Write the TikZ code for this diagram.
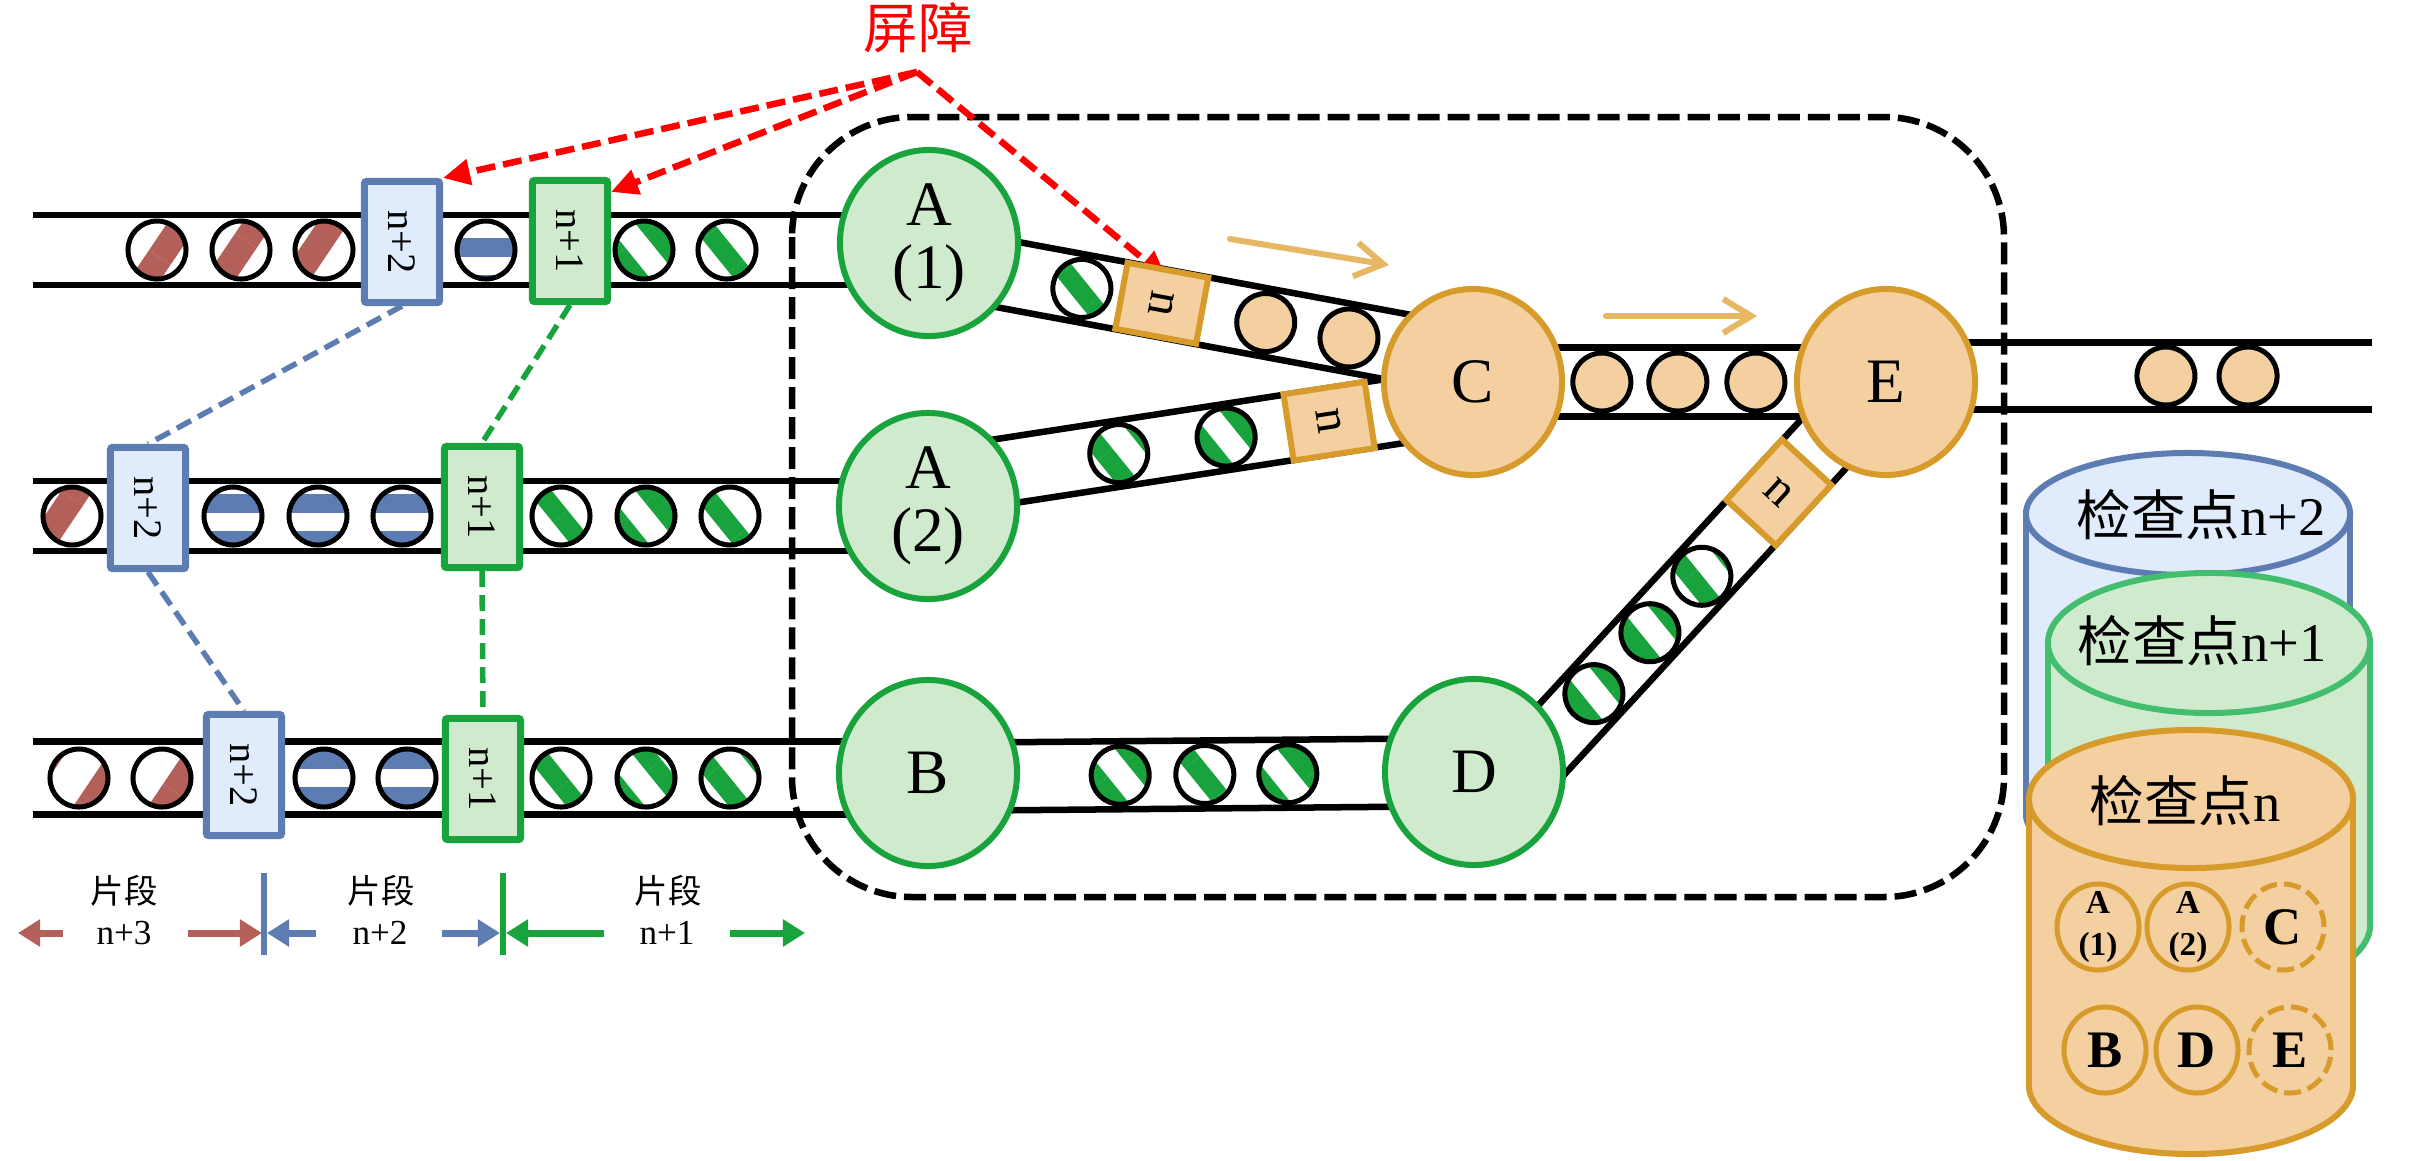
\documentclass[tikz,border=0pt]{standalone}
\usepackage{fontspec}
\setmainfont{Liberation Serif}
\newfontfamily\cjk{Noto Sans CJK SC}
\usepackage{graphicx}
\usetikzlibrary{calc,arrows.meta,patterns.meta,shapes.geometric}
\definecolor{gstroke}{RGB}{24,163,60}
\definecolor{gfill}{RGB}{208,234,206}
\definecolor{bstroke}{RGB}{93,124,178}
\definecolor{bfill}{RGB}{224,235,252}
\definecolor{ostroke}{RGB}{214,155,42}
\definecolor{ofill}{RGB}{244,207,160}
\definecolor{brownc}{RGB}{180,96,90}
\definecolor{cylgreen}{RGB}{66,190,110}
\definecolor{lightor}{RGB}{230,184,100}
\definecolor{redc}{RGB}{255,0,0}
\pgfdeclarelayer{bg}
\pgfdeclarelayer{mid}
\pgfsetlayers{bg,mid,main}
\newcommand\pipe[3]{%
  \draw[pipeline] ($(#1)!#3!90:(#2)$) -- ($(#2)!#3!-90:(#1)$);
  \draw[pipeline] ($(#1)!#3!-90:(#2)$) -- ($(#2)!#3!90:(#1)$);}
\newcommand\ballR{0.29cm}
\newcommand\grball[1]{%
  \fill[white] (#1) circle[radius=\ballR];
  \fill[pattern={Lines[angle=-51,distance=0.42cm,line width=0.19cm]},pattern color=gstroke] (#1) circle[radius=\ballR];
  \draw[ballline] (#1) circle[radius=\ballR];}
\newcommand\brball[1]{%
  \fill[white] (#1) circle[radius=\ballR];
  \fill[pattern={Lines[angle=56,distance=0.62cm,line width=0.26cm]},pattern color=brownc] (#1) circle[radius=\ballR];
  \draw[ballline] (#1) circle[radius=\ballR];}
\newcommand\orball[1]{\filldraw[ballline,fill=ofill] (#1) circle[radius=\ballR];}
\newcommand\blball[1]{%
  \begin{scope}
    \clip (#1) circle[radius=\ballR];
    \fill[white] (#1) circle[radius=0.31cm];
    \foreach \k in {0,...,16} {\fill[bstroke] (0,{238+36.6*\k}) rectangle (2420,{257+36.6*\k});}
  \end{scope}
  \draw[ballline] (#1) circle[radius=\ballR];}
\begin{document}
\begin{tikzpicture}[x=0.01cm,y=-0.01cm,
  gnode/.style={ellipse, draw=gstroke, fill=gfill, line width=0.06cm, minimum width=1.78cm, minimum height=1.86cm, inner sep=0pt, font=\fontsize{18}{18}\selectfont},
  onode/.style={gnode, draw=ostroke, fill=ofill},
  twoline/.style={font=\fontsize{18}{18}\selectfont, align=center, inner sep=0pt},
  pipeline/.style={line width=0.065cm},
  ballline/.style={line width=0.05cm},
  bbox/.style={draw=bstroke, fill=bfill, line width=0.07cm, rounded corners=0.02cm, minimum width=0.75cm, minimum height=1.21cm, inner sep=0pt, font=\fontsize{11.5}{11.5}\selectfont},
  gbox/.style={bbox, draw=gstroke, fill=gfill},
  nbox/.style={draw=ostroke, fill=ofill, line width=0.06cm, minimum width=0.82cm, minimum height=0.67cm, inner sep=0pt, font=\fontsize{14}{14}\selectfont},
  redarrow/.style={draw=redc, line width=0.065cm, dash pattern=on 0.19cm off 0.08cm, -{Triangle[length=0.27cm,width=0.25cm]}},
  bconn/.style={draw=bstroke, line width=0.055cm, dash pattern=on 0.16cm off 0.08cm},
  gconn/.style={bconn, draw=gstroke},
  flow/.style={draw=lightor, line width=0.06cm, line cap=round, -{Straight Barb[length=0.28cm,width=0.34cm]}},
  legarrow/.style={line width=0.07cm, -{Triangle[length=0.22cm,width=0.26cm]}},
  legtext/.style={font=\fontsize{10}{10}\selectfont, inner sep=0pt},
  legcjk/.style={font=\cjk\fontsize{9.5}{9.5}\selectfont, inner sep=0pt},
  cyltext/.style={font=\fontsize{15.5}{15.5}\selectfont, inner sep=0pt},
  smallc/.style={ellipse, draw=ostroke, fill=ofill, line width=0.05cm, minimum width=0.82cm, minimum height=0.86cm, inner sep=0pt},
  smallt/.style={font=\bfseries\fontsize{15}{15}\selectfont},
  smallab/.style={font=\bfseries\fontsize{9.5}{12}\selectfont, align=center, inner sep=0pt},
  cdash/.style={dash pattern=on 0.17cm off 0.07cm}
]
\useasboundingbox (0,0) rectangle (2420,1160);

% ---------- main nodes ----------
\node[gnode, label={[name=A1t, twoline]center:A\\(1)}] (A1) at (929,243) {};
\node[gnode, label={[name=A2t, twoline]center:A\\(2)}] (A2) at (928,506) {};
\node[gnode] (B) at (928,773) {B};
\node[onode] (C) at (1473,382) {C};
\node[gnode] (D) at (1474,772) {D};
\node[onode] (E) at (1886,382) {E};

% pipe end points
\coordinate (L1) at (33,250);
\coordinate (L2) at (33,516);
\coordinate (L3) at (33,778);
\coordinate (A1L) at (L1 -| A1);
\coordinate (A2L) at (L2 -| A2);
\coordinate (BL) at (L3 -| B);
\coordinate (a1) at ($(A1)+(0,17)$);
\coordinate (c1) at ($(C)+(0,-21)$);
\coordinate (a2) at ($(A2)+(0,-23)$);
\coordinate (c2) at ($(C)+(0,17)$);
\coordinate (bb) at ($(B)+(0,4)$);
\coordinate (dd) at (D);
\coordinate (dE) at ($(D)+(0,52)$);
\coordinate (eD) at ($(E)+(0,-6)$);
\coordinate (eo) at ($(E)+(0,-6)$);
\coordinate (R1) at (2372,376);
\coordinate (cc) at (C);
\coordinate (ee) at (E);

% ---------- boxes ----------
\node[bbox] (r1n2) at (402,242) {\rotatebox{-90}{n+2}};
\node[gbox] (r1n1) at (570,241) {\rotatebox{-90}{n+1}};
\node[bbox] (r2n2) at (148,508) {\rotatebox{-90}{n+2}};
\node[gbox] (r2n1) at (482,507) {\rotatebox{-90}{n+1}};
\node[bbox] (r3n2) at (244,775) {\rotatebox{-90}{n+2}};
\node[gbox] (r3n1) at (483,779) {\rotatebox{-90}{n+1}};
\node[nbox, rotate=-10.5] (nb1) at ($(a1)!0.428!(c1)$) {\rotatebox{-90}{n}};
\node[nbox, rotate=8.7] (nb2) at ($(a2)!0.736!(c2)$) {\rotatebox{-90}{n}};
\node[nbox, rotate=47.4] (nb3) at ($(dE)!0.74!(eD)$) {\rotatebox{-90}{n}};

% ---------- barrier label ----------
\node[text=redc, font=\cjk\fontsize{15.5}{15.5}\selectfont, inner sep=0pt] (barrier) at (918,28) {屏障};
\coordinate (hub) at (917,72);

% ---------- background layer: frame, pipes, balls ----------
\begin{pgfonlayer}{bg}
\fill[white] (0,0) rectangle (2420,1160);
\draw[line width=0.065cm, dash pattern=on 0.22cm off 0.08cm, rounded corners=1.2cm] (792,117) rectangle (2004,897);
\pipe{L1}{A1L}{0.35cm}
\pipe{L2}{A2L}{0.35cm}
\pipe{L3}{BL}{0.365cm}
\pipe{a1}{c1}{0.34cm}
\pipe{a2}{c2}{0.33cm}
\pipe{bb}{dd}{0.34cm}
\pipe{cc}{ee}{0.345cm}
\pipe{dE}{eD}{0.33cm}
\pipe{eo}{R1}{0.335cm}
% row 1
\brball{157,250}\brball{241,250}\brball{324,250}
\blball{486,250}
\grball{644,250}\grball{727,250}
% row 2
\brball{72,516}
\blball{233,516}\blball{318,516}\blball{402,516}
\grball{561,516}\grball{646,516}\grball{730,516}
% row 3
\brball{79,778}\brball{162,778}
\blball{324,778}\blball{407,778}
\grball{561,778}\grball{646,778}\grball{730,778}
% inner pipes
\grball{$(a1)!0.281!(c1)$}
\orball{$(a1)!0.619!(c1)$}
\orball{$(a1)!0.772!(c1)$}
\grball{$(a2)!0.350!(c2)$}
\grball{$(a2)!0.547!(c2)$}
\grball{$(bb)!0.352!(dd)$}
\grball{$(bb)!0.507!(dd)$}
\grball{$(bb)!0.659!(dd)$}
\orball{$(cc)!0.312!(ee)$}
\orball{$(cc)!0.496!(ee)$}
\orball{$(cc)!0.685!(ee)$}
\grball{$(dE)!0.291!(eD)$}
\grball{$(dE)!0.427!(eD)$}
\grball{$(dE)!0.553!(eD)$}
\orball{$(eo)!0.576!(R1)$}
\orball{$(eo)!0.745!(R1)$}
\end{pgfonlayer}

% ---------- middle layer: arrows and connectors ----------
\begin{pgfonlayer}{mid}
\draw[redarrow] (hub) -- (r1n2.north east);
\draw[redarrow] (hub) -- ([yshift=-0.15cm]r1n1.north east);
\draw[redarrow] (hub) -- ($(nb1.north)!0.3!(nb1.center)$);
\draw[bconn] (r1n2.south) -- (r2n2.north);
\draw[bconn] (r2n2.south) -- (r3n2.north);
\draw[gconn] (r1n1.south) -- (r2n1.north);
\draw[gconn] (r2n1.south) -- (r3n1.north);
\coordinate (oa1) at (1230,239);
\coordinate (oa2) at (1389,265);
\coordinate (ob1) at (1606,316);
\coordinate (ob2) at (1757,316);
\draw[flow] (oa1) -- (oa2);
\draw[flow] (ob1) -- (ob2);
% legend
\coordinate (tbT) at (264,873);
\coordinate (tbB) at (264,955);
\coordinate (tgT) at (503,873);
\coordinate (tgB) at (503,955);
\draw[bstroke, line width=0.06cm] (tbT) -- (tbB);
\draw[gstroke, line width=0.06cm] (tgT) -- (tgB);
\coordinate (k1) at (63,933);
\coordinate (k0) at (18,933);
\coordinate (k2) at (188,933);
\coordinate (k3) at (262,933);
\coordinate (k4) at (316,933);
\coordinate (k5) at (267,933);
\coordinate (k6) at (442,933);
\coordinate (k7) at (500,933);
\coordinate (k8) at (604,933);
\coordinate (k9) at (506,933);
\coordinate (k10) at (730,933);
\coordinate (k11) at (805,933);
\draw[legarrow, brownc] (k1) -- (k0);
\draw[legarrow, brownc] (k2) -- (k3);
\draw[legarrow, bstroke] (k4) -- (k5);
\draw[legarrow, bstroke] (k6) -- (k7);
\draw[legarrow, gstroke] (k8) -- (k9);
\draw[legarrow, gstroke] (k10) -- (k11);
\end{pgfonlayer}

\node[legcjk] (seg3a) at (124,891) {片段};
\node[legtext] (seg3b) at (124,933) {n+3};
\node[legcjk] (seg2a) at (381,891) {片段};
\node[legtext] (seg2b) at (380,933) {n+2};
\node[legcjk] (seg1a) at (668,891) {片段};
\node[legtext] (seg1b) at (667,933) {n+1};

% ---------- checkpoint cylinders ----------
% blue
\filldraw[draw=bstroke, fill=bfill, line width=0.06cm] (2188,814) ellipse[x radius=1.62cm, y radius=0.61cm];
\fill[bfill] (2026,514) rectangle (2350,814);
\draw[bstroke, line width=0.06cm] (2026,514) -- (2026,814) (2350,514) -- (2350,814);
\filldraw[draw=bstroke, fill=bfill, line width=0.06cm] (2188,514) ellipse[x radius=1.62cm, y radius=0.61cm];
\node[cyltext] (ck2) at (2201,515) {{\cjk 检查点}n+2};
% green
\filldraw[draw=cylgreen, fill=gfill, line width=0.06cm] (2209,925) ellipse[x radius=1.61cm, y radius=0.70cm];
\fill[gfill] (2048,643) rectangle (2370,925);
\draw[cylgreen, line width=0.06cm] (2048,643) -- (2048,925) (2370,643) -- (2370,925);
\filldraw[draw=cylgreen, fill=gfill, line width=0.06cm] (2209,643) ellipse[x radius=1.61cm, y radius=0.70cm];
\node[cyltext] (ck1) at (2202,641) {{\cjk 检查点}n+1};
% orange
\filldraw[draw=ostroke, fill=ofill, line width=0.06cm] (2191,1085) ellipse[x radius=1.62cm, y radius=0.69cm];
\fill[ofill] (2029,799) rectangle (2353,1085);
\draw[ostroke, line width=0.06cm] (2029,799) -- (2029,1085) (2353,799) -- (2353,1085);
\filldraw[draw=ostroke, fill=ofill, line width=0.06cm] (2191,799) ellipse[x radius=1.62cm, y radius=0.69cm];
\node[cyltext] (ck0) at (2185,801) {{\cjk 检查点}n};
% small state circles
\node[smallc] (sA1) at (2098,927) {};
\node[smallab] (sA1t) at (sA1) {A\\(1)};
\node[smallc] (sA2) at (2188,927) {};
\node[smallab] (sA2t) at (sA2) {A\\(2)};
\node[smallc, cdash, smallt] (sC) at (2283,927) {C};
\node[smallc, smallt] (sB) at (2105,1050) {B};
\node[smallc, smallt] (sD) at (2197,1050) {D};
\node[smallc, cdash, smallt] (sE) at (2290,1050) {E};
\end{tikzpicture}
\end{document}
